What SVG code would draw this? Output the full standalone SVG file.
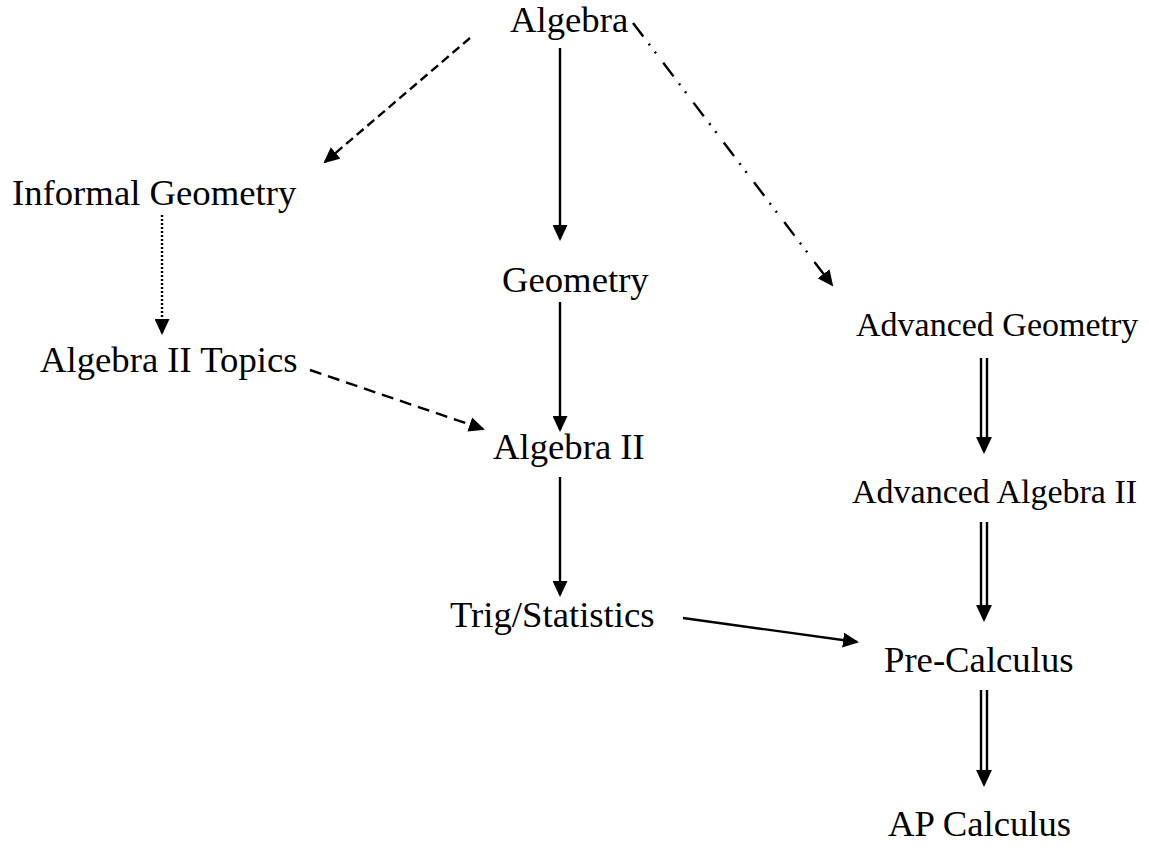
<svg xmlns="http://www.w3.org/2000/svg" width="1149" height="848" viewBox="0 0 1149 848">
<style>
text{font-family:"Liberation Serif","Times New Roman",serif;font-size:36.7px;fill:#000}
.sm{font-size:34px}
.c{fill:none;stroke:#000;stroke-width:2.4}
</style>
<defs>
<marker id="ah" markerUnits="userSpaceOnUse" viewBox="0 0 16 15" markerWidth="16" markerHeight="15" refX="14" refY="7.5" orient="auto">
<path d="M0,0 L16,7.5 L0,15 z" fill="#000"/>
</marker>
</defs>
<rect width="1149" height="848" fill="#fff"/>
<g id="connectors">
<path class="c" d="M470,38 L325,162" stroke-dasharray="9 5" marker-end="url(#ah)"/>
<path class="c" d="M560,48 L560,239" marker-end="url(#ah)"/>
<path class="c" d="M633,23 L832,285" stroke-dasharray="17 9 2 8 2 12" marker-end="url(#ah)"/>
<path class="c" d="M162,215 L162,333" stroke-dasharray="2 2" marker-end="url(#ah)"/>
<path class="c" d="M310,370 L483,429" stroke-dasharray="12 7" marker-end="url(#ah)"/>
<path class="c" d="M560,302 L560,430" marker-end="url(#ah)"/>
<path class="c" d="M560,477 L560,595" marker-end="url(#ah)"/>
<path class="c" d="M683,618 L857,642" marker-end="url(#ah)"/>
<g id="dbl1">
<path class="c" d="M981,358 L981,440 M987,358 L987,440"/>
<path d="M976,437 L992,437 L984,454 z" fill="#000"/>
</g>
<g id="dbl2">
<path class="c" d="M981,522 L981,608 M987,522 L987,608"/>
<path d="M976,605 L992,605 L984,622 z" fill="#000"/>
</g>
<g id="dbl3">
<path class="c" d="M981,690 L981,772 M987,690 L987,772"/>
<path d="M976,770 L992,770 L984,787 z" fill="#000"/>
</g>
</g>
<g id="n-algebra"><text x="510" y="32">Algebra</text></g>
<g id="n-informal-geometry"><text x="12" y="205">Informal Geometry</text></g>
<g id="n-geometry"><text x="502" y="292">Geometry</text></g>
<g id="n-advanced-geometry"><text class="sm" x="856" y="336">Advanced Geometry</text></g>
<g id="n-algebra-ii-topics"><text x="40" y="372">Algebra II Topics</text></g>
<g id="n-algebra-ii"><text x="493" y="459">Algebra II</text></g>
<g id="n-advanced-algebra-ii"><text class="sm" x="852" y="503">Advanced Algebra II</text></g>
<g id="n-trig-statistics"><text x="450" y="627">Trig/Statistics</text></g>
<g id="n-pre-calculus"><text x="884" y="672">Pre-Calculus</text></g>
<g id="n-ap-calculus"><text x="888" y="836">AP Calculus</text></g>
</svg>
